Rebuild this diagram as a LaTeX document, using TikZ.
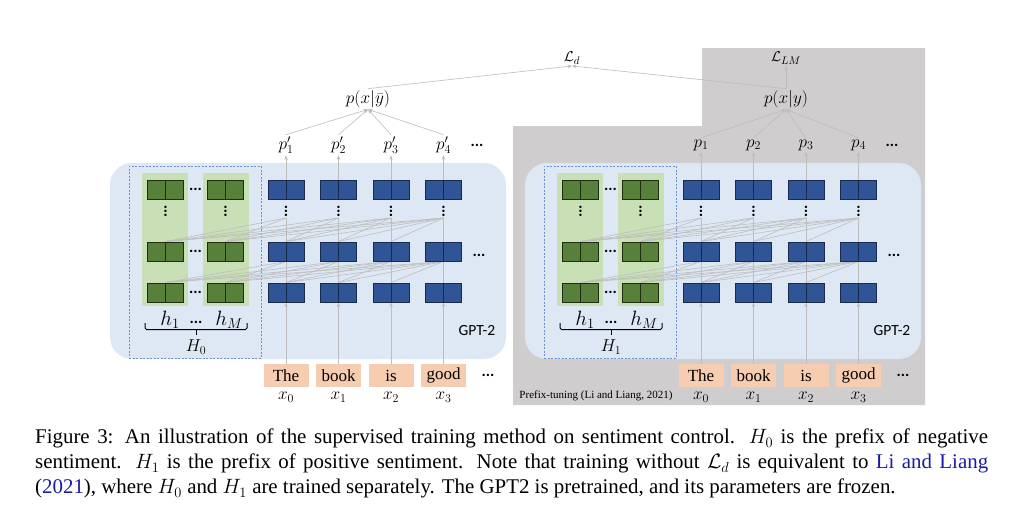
\documentclass[tikz,border=0pt]{standalone}
\usepackage{amsmath}
\usepackage{fontspec}
\setmainfont{Liberation Serif}
\newfontfamily\calfont{Carlito}
\usetikzlibrary{arrows.meta}
\definecolor{panelblue}{HTML}{DDE8F4}
\definecolor{colgreen}{HTML}{C9DFB6}
\definecolor{greenfill}{HTML}{57803A}
\definecolor{greenedge}{HTML}{1E2D12}
\definecolor{bluefill}{HTML}{2F5597}
\definecolor{blueedge}{HTML}{1A2A4A}
\definecolor{peach}{HTML}{F6CDB0}
\definecolor{graybg}{HTML}{CFCDCE}
\definecolor{linegray}{HTML}{BDBDBD}
\definecolor{dashblue}{HTML}{6F8FC8}
\definecolor{citeblue}{HTML}{1A1AA6}
\pgfdeclarelayer{bg}\pgfdeclarelayer{ln}\pgfsetlayers{bg,ln,main}
\tikzset{
 cell/.style={minimum width=36pt, minimum height=19pt, inner sep=0pt, line width=0.9pt,
   path picture={\draw[line width=0.9pt,#1] (path picture bounding box.north) -- (path picture bounding box.south);}},
 bcell/.style={cell=blueedge, draw=blueedge, fill=bluefill},
 gcell/.style={cell=greenedge, draw=greenedge, fill=greenfill},
 bgbox/.style={fill=panelblue, rounded corners=22pt, minimum width=396pt, minimum height=196pt, inner sep=0pt},
 gcol/.style={fill=colgreen, minimum width=46pt, minimum height=133pt, inner sep=0pt},
 dbox/.style={draw=dashblue, dash pattern=on 2pt off 1.5pt, line width=0.7pt, minimum width=132pt, minimum height=192pt, inner sep=0pt},
 inbox/.style={fill=peach, minimum width=45pt, minimum height=23pt, inner sep=0pt, font=\fontsize{17}{20}\selectfont},
 conn/.style={draw=linegray, line width=0.6pt},
 arr/.style={conn, -{Stealth[length=4.5pt,width=3.5pt]}},
 lbl/.style={inner sep=0pt, font=\fontsize{18}{21}\selectfont},
 plbl/.style={inner sep=1.5pt, font=\fontsize{18}{21}\selectfont},
 hlbl/.style={inner sep=0pt, font=\fontsize{20}{23}\selectfont},
 hd/.style={inner sep=0pt, font=\calfont\bfseries\fontsize{16}{16}\selectfont},
 vd/.style={inner sep=0pt, rotate=90, font=\calfont\bfseries\fontsize{16}{16}\selectfont},
 brk/.style={line width=1pt, rounded corners=1.5pt},
}
\newcommand\drawpanel[5]{%
\begin{scope}[xshift=#2pt]
 \begin{pgfonlayer}{bg}
  \node[bgbox] (#1bg) at (308,261) {};
  \node[gcol] (#1c1) at (164.5,239.5) {};
  \node[gcol] (#1c2) at (226,239.5) {};
  \node[dbox] (#1db) at (195,262) {};
 \end{pgfonlayer}
 \foreach \n/\x in {1/165.5,2/225.5}{
  \node[gcell] (#1GT\n) at (\x,189.5) {};
  \node[gcell] (#1GM\n) at (\x,251.5) {};
  \node[gcell] (#1GB\n) at (\x,292.5) {};
  \node[vd] (#1GD\n) at (\x,211.5) {...};
 }
 \foreach \r/\y in {T/189.5,M/251.5,B/292.5}
  \node[hd] (#1GH\r) at (195.5,\y) {...};
 \foreach \j/\k/\x/\w in {0/1/286/The,1/2/338.5/book,2/3/391/is,3/4/443.5/good}{
  \node[bcell] (#1T\j) at (\x,189.5) {};
  \node[bcell] (#1M\j) at (\x,251.5) {};
  \node[bcell] (#1B\j) at (\x,292.5) {};
  \node[vd] (#1D\j) at (\x,211.5) {...};
  \coordinate (#1U\j) at (\x,218);
  \node[inbox] (#1I\j) at (\x,375.5) {\w};
  \node[lbl] (#1X\j) at (\x,397) {$x_{\j}$};
  \node[plbl] (#1P\j) at (\x,145) {$p#4_{\k}$};
 }
 \node[hd] (#1dM) at (479,255) {...};
 \node[hd] (#1dP) at (477,145) {...};
 \node[hd] (#1dI) at (488,375) {...};
 \node[hlbl] (#1h1) at (170,320) {$h_1$};
 \node[hd] (#1hd) at (196,322) {...};
 \node[hlbl] (#1hM) at (229,320) {$h_M$};
 \coordinate (#1bl) at (145,323);
 \coordinate (#1br) at (247,323);
 \coordinate (#1bm) at (196,329.5);
 \coordinate (#1bt) at (196,335);
 \node[lbl] (#1H) at (196,347) {$#3$};
 \node[inner sep=0pt, font=\calfont\fontsize{15.5}{18}\selectfont] (#1gpt) at (477,331) {GPT-2};
 \begin{pgfonlayer}{ln}
  \foreach \j in {0,...,3}{
   \draw[arr] (#1I\j) -- (#1B\j);
   \draw[conn] (#1B\j) -- (#1M\j);
   \draw[conn] (#1M\j.north) -- (#1U\j);
   \draw[arr] (#1T\j) -- (#1P\j);
   \draw[arr] (#1P\j.north) -- (#5.south);
   \foreach \g in {1,2}{
    \draw[conn] (#1U\j) -- (#1GM\g.north);
    \draw[conn] (#1M\j.south) -- (#1GB\g.north);
   }
  }
  \foreach \j/\is in {1/{0},2/{0,1},3/{0,1,2}}
   \foreach \i in \is {
    \draw[conn] (#1U\j) -- (#1M\i.north);
    \draw[conn] (#1M\j.south) -- (#1B\i.north);
   }
 \end{pgfonlayer}
 \draw[brk] (#1bl) |- (#1bm) -| (#1br);
 \draw[line width=1pt] (#1bm) -- (#1bt);
\end{scope}}
\begin{document}
\begin{tikzpicture}[x=1pt,y=-1pt]
\useasboundingbox (0,0) rectangle (1023,515);
\begin{pgfonlayer}{bg}
 \fill[white] (0,0) rectangle (1023,515);
 \fill[graybg] (513,126) -- (702,126) -- (702,48) -- (925,48) -- (925,405) -- (513,405) -- cycle;
\end{pgfonlayer}
\node[plbl, font=\fontsize{15}{18}\selectfont] (Ld) at (572,58) {$\mathcal{L}_d$};
\node[plbl, font=\fontsize{15}{18}\selectfont] (LLM) at (786,58) {$\mathcal{L}_{LM}$};
\node[plbl] (pbar) at (368,99) {$p(x|\bar{y})$};
\node[plbl] (py) at (786,99) {$p(x|y)$};
\begin{pgfonlayer}{ln}
 \draw[arr] (pbar.north) -- (Ld.south);
 \draw[arr] (py.north) -- (Ld.south);
 \draw[arr] (py) -- (LLM);
\end{pgfonlayer}
\drawpanel{L}{0}{H_0}{'}{pbar}
\drawpanel{R}{415}{H_1}{}{py}
\node[inner sep=0pt, font=\fontsize{11}{13}\selectfont] (pt) at (596,396) {Prefix-tuning (Li and Liang, 2021)};
\node[anchor=north west, inner sep=0pt, text width=953pt, align=justify,
      font=\fontsize{20.9}{25}\selectfont] (cap) at (35,429)
 {Figure 3: An illustration of the supervised training method on sentiment control. $H_0$ is the prefix of negative\linebreak
 sentiment. $H_1$ is the prefix of positive sentiment. Note that training without $\mathcal{L}_d$ is equivalent to \textcolor{citeblue}{Li and Liang}\linebreak
 (\textcolor{citeblue}{2021}), where $H_0$ and $H_1$ are trained separately. The GPT2 is pretrained, and its parameters are frozen.};
\end{tikzpicture}
\end{document}
